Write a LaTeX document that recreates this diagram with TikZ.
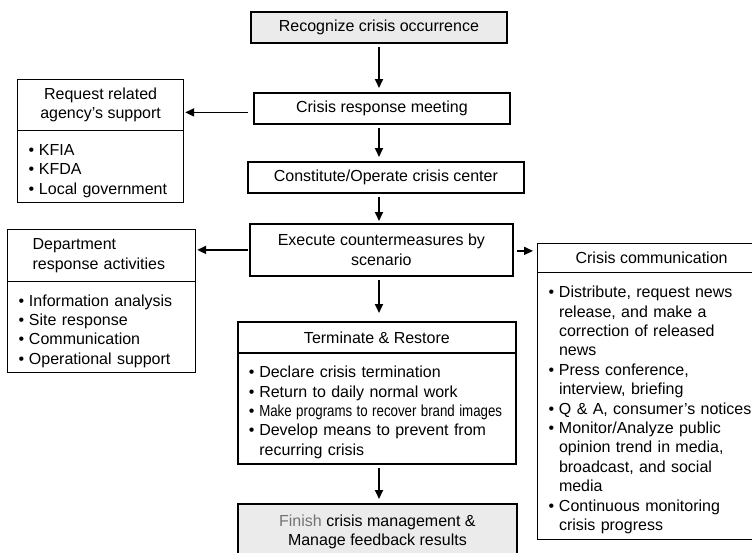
\documentclass[tikz,border=0pt]{standalone}
\usepackage{fontspec}
\usepackage{graphicx}
\setmainfont{Liberation Sans}
\usetikzlibrary{arrows.meta}

\newcommand{\bitem}[1]{\par\noindent\hangindent=0.65em\hangafter=1\makebox[0.65em][l]{\textbullet}#1\par}

\begin{document}
\begin{tikzpicture}[x=1pt, y=-1pt,
        font=\fontsize{16}{19.4}\selectfont,
        flowbox/.style={draw, line width=1.8pt, inner sep=0pt, anchor=north west, align=center},
        sidebox/.style={draw, line width=1.2pt, inner sep=0pt, anchor=north west, align=center},
        listbox/.style={sidebox, align=left, inner xsep=11pt},
        flow/.style={-{Triangle[length=9pt,width=8pt]}, line width=1.8pt, shorten <=3pt, shorten >=4pt}]

        \useasboundingbox (0,0) rectangle (752,552);
        \clip (0,0) rectangle (752,552);

        % Ablauf in der Mitte
        \node[flowbox, fill=black!8, minimum width=256pt, minimum height=31pt] (recog) at (250,11) {Recognize crisis occurrence};
        \node[flowbox, minimum width=256pt, minimum height=31pt] (meeting) at (253,92) {Crisis response meeting};
        \node[flowbox, minimum width=276pt, minimum height=31pt] (center) at (247,161) {Constitute/Operate crisis center};
        \node[flowbox, minimum width=263pt, minimum height=52pt] (execute) at (249,223) {Execute countermeasures by\\scenario};
        \node[flowbox, minimum width=278pt, minimum height=31pt] (term) at (237,321) {Terminate \& Restore};
        \node[flowbox, listbox, line width=1.8pt, text width=256pt, minimum width=278pt, minimum height=111pt] (termlist) at (237,352) {%
            \bitem{Declare crisis termination}
            \bitem{Return to daily normal work}
            \bitem{\scalebox{0.83}[1]{Make programs to recover brand images}}
            \bitem{Develop means to prevent from\break recurring crisis}};
        \node[flowbox, fill=black!8, minimum width=279pt, minimum height=56pt] (finish) at (237,503) {{\color{black!55}Finish} crisis management \&\\Manage feedback results};

        % Seitenkaesten
        \node[sidebox, minimum width=166pt, minimum height=51pt] (request) at (17,79) {Request related\\agency’s support};
        \node[listbox, text width=144pt, minimum width=166pt, minimum height=72pt] (requestlist) at (17,130) {%
            \bitem{KFIA}
            \bitem{KFDA}
            \bitem{Local government}};

        \node[sidebox, align=left, inner xsep=25pt, text width=138pt, minimum width=188pt, minimum height=52pt] (dept) at (7,229) {Department\\response activities};
        \node[listbox, text width=166pt, minimum width=188pt, minimum height=91pt] (deptlist) at (7,281) {%
            \bitem{Information analysis}
            \bitem{Site response}
            \bitem{Communication}
            \bitem{Operational support}};

        \node[sidebox, minimum width=228pt, minimum height=29pt] (comm) at (537,243) {Crisis communication};
        \node[listbox, text width=206pt, minimum width=228pt, minimum height=267pt] (commlist) at (537,272) {%
            \bitem{Distribute, request news\break release, and make a\break correction of released\break news}
            \bitem{Press conference,\break interview, briefing}
            \bitem{Q \& A, consumer’s notices}
            \bitem{Monitor/Analyze public\break opinion trend in media,\break broadcast, and social\break media}
            \bitem{Continuous monitoring\break crisis progress}};

        % Pfeile
        \coordinate (axis) at (379,0);
        \draw[flow] (recog.south -| axis) -- (meeting.north -| axis);
        \draw[flow] (meeting.south -| axis) -- (center.north -| axis);
        \draw[flow, shorten >=2pt] (center.south -| axis) -- (execute.north -| axis);
        \draw[flow, shorten >=8pt] (execute.south -| axis) -- (term.north -| axis);
        \draw[flow] (termlist.south -| axis) -- (finish.north -| axis);

        \draw[flow, shorten <=5pt, shorten >=1pt] ([yshift=-4pt]meeting.west) -- ([yshift=-4pt]meeting.west -| request.east);
        \draw[flow, shorten <=1pt, shorten >=1pt] (execute.west) -- (execute.west -| dept.east);
        \draw[flow] ([yshift=-1pt]execute.east) -- ([yshift=-1pt]execute.east -| comm.west);
    \end{tikzpicture}
\end{document}
